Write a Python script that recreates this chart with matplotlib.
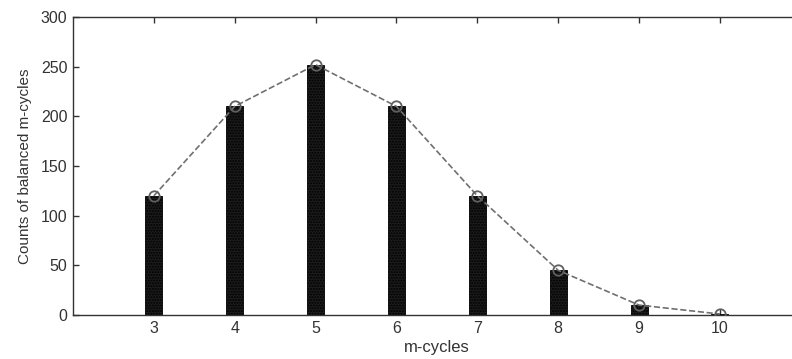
import matplotlib
matplotlib.use("Agg")
import matplotlib.pyplot as plt

m_cycles = [3, 4, 5, 6, 7, 8, 9, 10]
counts = [120, 210, 252, 210, 120, 45, 10, 1]
yticks = [0, 50, 100, 150, 200, 250, 300]

plt.rcParams['font.family'] = ['Liberation Sans', 'DejaVu Sans']

fig = plt.figure(figsize=(7.92, 3.59), dpi=100)
ax = fig.add_axes([73/792, 1-315/359, 9*80.86/792, 298/359])

ax.bar(m_cycles, counts, width=0.21, color='#1c1c1c', edgecolor='#000000', linewidth=0.6, hatch='......', zorder=2)
ax.plot(m_cycles, counts, linestyle='--', color='#707070', linewidth=1.2,
        marker='o', markersize=7.5, markerfacecolor='none', markeredgecolor='#606060',
        markeredgewidth=1.3, zorder=3)

ax.set_xlim(2, 11)
ax.set_ylim(0, 300)
ax.set_xticks(m_cycles)
ax.set_yticks(yticks)
ax.tick_params(direction='in', top=True, right=True, labelsize=11.5, length=4, width=1,
               colors='#333333', pad=4)
for s in ax.spines.values():
    s.set_linewidth(1.0)
    s.set_color('#333333')
ax.set_xlabel('m-cycles', fontsize=12, labelpad=3, color='#333333')
ax.set_ylabel('Counts of balanced m-cycles', fontsize=11, labelpad=6, color='#333333')

fig.savefig('out.png', dpi=100)
